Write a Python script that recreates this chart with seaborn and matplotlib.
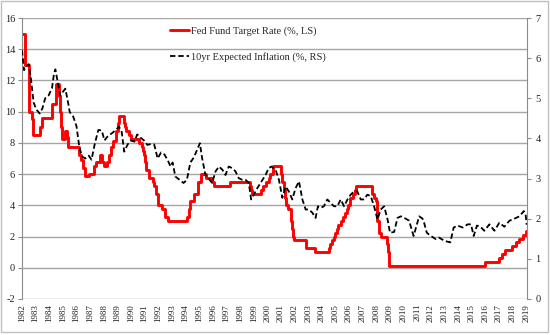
import matplotlib
matplotlib.use("Agg")
import matplotlib.pyplot as plt
import pandas as pd
import seaborn as sns
from matplotlib.patches import Rectangle

# ---------------- data ----------------
fed_dates = [1982.00, 1982.20, 1982.55, 1982.70, 1982.83, 1983.35, 1983.45, 1984.20, 1984.50,
             1984.72, 1984.77, 1984.85, 1984.95, 1985.12, 1985.28, 1985.38, 1986.20, 1986.30,
             1986.45, 1986.60, 1986.90, 1987.30, 1987.42, 1987.70, 1987.85, 1988.00, 1988.25,
             1988.40, 1988.50, 1988.65, 1988.90, 1989.05, 1989.15, 1989.45, 1989.52, 1989.58,
             1989.65, 1989.85, 1989.97, 1990.55, 1990.82, 1990.88, 1990.95, 1991.00, 1991.05,
             1991.10, 1991.30, 1991.60, 1991.70, 1991.85, 1991.95, 1992.30, 1992.50, 1992.70,
             1994.08, 1994.25, 1994.35, 1994.62, 1994.88, 1995.10, 1995.52, 1995.95, 1996.08,
             1997.23, 1998.75, 1998.80, 1998.88, 1999.50, 1999.65, 1999.88, 2000.10, 2000.22,
             2000.38, 2001.00, 2001.08, 2001.22, 2001.30, 2001.38, 2001.48, 2001.70, 2001.78,
             2001.85, 2001.95, 2002.85, 2003.48, 2004.50, 2004.62, 2004.72, 2004.87, 2004.95,
             2005.10, 2005.22, 2005.42, 2005.58, 2005.72, 2005.83, 2005.95, 2006.08, 2006.25,
             2006.40, 2006.50, 2007.70, 2007.83, 2007.95, 2008.05, 2008.08, 2008.20, 2008.33,
             2008.78, 2008.83, 2008.96, 2015.96, 2016.96, 2017.20, 2017.46, 2017.96, 2018.22,
             2018.46, 2018.72, 2018.97, 2019.05]
fed_rates = [15.0, 13.0, 10.0, 9.5, 8.5, 9.0, 9.6, 10.5, 11.75,
             11.0, 10.0, 9.0, 8.25, 8.75, 8.375, 7.75, 7.25, 6.875,
             6.375, 5.875, 6.0, 6.5, 6.75, 7.25, 6.75, 6.5, 6.75,
             7.25, 7.75, 8.125, 8.75, 9.25, 9.75, 9.5, 9.25, 9.0,
             8.75, 8.5, 8.25, 8.0, 7.75, 7.5, 7.25, 7.0, 6.75,
             6.25, 5.75, 5.5, 5.25, 4.75, 4.0, 3.75, 3.25, 3.0,
             3.25, 3.75, 4.25, 4.75, 5.5, 6.0, 5.75, 5.5, 5.25,
             5.5, 5.25, 5.0, 4.75, 5.0, 5.25, 5.5, 5.75, 6.0,
             6.5, 6.0, 5.5, 5.0, 4.5, 4.0, 3.75, 3.0, 2.5,
             2.0, 1.75, 1.25, 1.0, 1.25, 1.5, 1.75, 2.0, 2.25,
             2.5, 2.75, 3.0, 3.25, 3.5, 3.75, 4.0, 4.5, 4.75,
             5.0, 5.25, 4.75, 4.5, 4.25, 3.5, 3.0, 2.25, 2.0,
             1.5, 1.0, 0.125, 0.375, 0.625, 0.875, 1.125, 1.375, 1.625,
             1.875, 2.125, 2.375, 2.375]

infl_dates = [1982.00, 1982.15, 1982.30, 1982.50, 1982.65, 1982.85, 1983.05, 1983.30, 1983.50,
              1983.70, 1983.95, 1984.20, 1984.35, 1984.45, 1984.62, 1984.80, 1985.00, 1985.18,
              1985.35, 1985.50, 1985.75, 1986.00, 1986.20, 1986.40, 1986.65, 1986.90, 1987.10,
              1987.35, 1987.60, 1987.85, 1988.05, 1988.30, 1988.60, 1988.85, 1989.10, 1989.30,
              1989.50, 1989.75, 1990.00, 1990.25, 1990.45, 1990.70, 1990.95, 1991.20, 1991.45,
              1991.70, 1991.95, 1992.20, 1992.45, 1992.70, 1992.90, 1993.05, 1993.25, 1993.60,
              1993.85, 1994.10, 1994.35, 1994.60, 1994.85, 1995.05, 1995.22, 1995.45, 1995.70,
              1995.95, 1996.20, 1996.45, 1996.70, 1996.93, 1997.17, 1997.42, 1997.66, 1997.90,
              1998.15, 1998.40, 1998.64, 1998.81, 1999.00, 1999.26, 1999.50, 1999.87, 2000.10,
              2000.30, 2000.45, 2000.60, 2000.85, 2001.10, 2001.34, 2001.58, 2001.83, 2002.07,
              2002.32, 2002.57, 2002.81, 2003.05, 2003.30, 2003.54, 2003.71, 2003.91, 2004.15,
              2004.40, 2004.65, 2004.89, 2005.14, 2005.38, 2005.63, 2005.88, 2006.12, 2006.36,
              2006.60, 2006.85, 2007.10, 2007.34, 2007.59, 2007.83, 2008.08, 2008.32, 2008.57,
              2008.82, 2009.00, 2009.30, 2009.55, 2009.79, 2010.16, 2010.40, 2010.73, 2011.14,
              2011.39, 2011.50, 2011.70, 2012.00, 2012.37, 2012.60, 2012.98, 2013.42, 2013.67,
              2013.96, 2014.33, 2014.70, 2014.94, 2015.14, 2015.38, 2015.63, 2015.92, 2016.29,
              2016.66, 2017.02, 2017.39, 2017.76, 2018.12, 2018.49, 2018.82, 2018.95, 2019.03]
infl_values = [6.20, 5.70, 5.80, 5.85, 5.50, 4.90, 4.72, 4.62, 4.75,
               5.00, 5.07, 5.25, 5.62, 5.72, 5.40, 5.07, 5.16, 5.24,
               4.95, 4.66, 4.55, 4.30, 3.80, 3.55, 3.50, 3.57, 3.47,
               3.88, 4.21, 4.20, 3.95, 4.06, 4.13, 4.20, 4.29, 4.20,
               3.67, 3.85, 3.95, 3.92, 4.10, 4.02, 3.95, 3.84, 3.86,
               3.85, 3.50, 3.65, 3.60, 3.45, 3.30, 3.40, 3.05, 2.96,
               2.89, 2.97, 3.40, 3.52, 3.72, 3.88, 3.50, 3.10, 3.00,
               2.89, 3.18, 3.30, 3.22, 3.09, 3.30, 3.26, 3.18, 3.01,
               2.97, 2.97, 2.89, 2.48, 2.60, 2.76, 2.89, 3.09, 3.26,
               3.30, 3.26, 3.22, 2.97, 2.52, 2.80, 2.68, 2.48, 2.76,
               2.93, 2.48, 2.23, 2.23, 2.15, 2.02, 2.31, 2.27, 2.31,
               2.48, 2.39, 2.31, 2.31, 2.48, 2.31, 2.48, 2.60, 2.68,
               2.68, 2.48, 2.48, 2.60, 2.56, 2.31, 1.98, 2.23, 2.31,
               1.98, 1.65, 1.67, 2.02, 2.06, 2.00, 1.95, 1.57, 2.06,
               2.00, 1.90, 1.65, 1.57, 1.49, 1.53, 1.45, 1.41, 1.78,
               1.83, 1.78, 1.86, 1.86, 1.57, 1.83, 1.80, 1.70, 1.86,
               1.70, 1.90, 1.80, 1.95, 2.00, 2.06, 2.19, 2.10, 1.85]

years = list(range(1982, 2020))
year_labels = [str(y) for y in years]
left_ticks = list(range(-2, 17, 2))
right_ticks = list(range(0, 8))
fed_label = "Fed Fund Target Rate (%, LS)"
infl_label = "10yr Expected Inflation (%, RS)"

# ---------------- style ----------------
sns.set_style("white")
plt.rcParams['font.family'] = ['Liberation Serif', 'DejaVu Serif']

GRID = '#a6a6a6'
SPINE = '#8c8c8c'

fig = plt.figure(figsize=(5.5, 3.35), dpi=100)
ax = fig.add_axes([22 / 550, 1 - 299 / 335, (527 - 22) / 550, (299 - 18) / 335])

fed_df = pd.DataFrame({'date': fed_dates, 'rate': fed_rates})
infl_df = pd.DataFrame({'date': infl_dates, 'value': infl_values})

sns.lineplot(data=fed_df, x='date', y='rate', ax=ax, color='#ff0000', linewidth=2.1,
             drawstyle='steps-post', label=fed_label, legend=False)

ax2 = ax.twinx()
sns.lineplot(data=infl_df, x='date', y='value', ax=ax2, color='black', linewidth=1.3,
             linestyle='--', label=infl_label, legend=False)
ax2.lines[0].set_dashes([3, 1.6])

# ---- left axis / x axis ----
ax.set_xlim(1982, 2019.05)
ax.set_ylim(-2, 16)
ax.set_yticks(left_ticks)
ax.set_yticklabels([str(v) for v in left_ticks])
ax.yaxis.grid(True, color=GRID, linewidth=1.0)
ax.xaxis.grid(False)
ax.set_axisbelow(True)
ax.set_xlabel('')
ax.set_ylabel('')

ax.set_xticks(years)
ax.set_xticklabels(year_labels)
ax.spines['bottom'].set_position(('data', 0))
ax.spines['bottom'].set_color(GRID)
ax.spines['left'].set_color(SPINE)
ax.spines['top'].set_visible(False)
ax.spines['right'].set_visible(False)
ax.tick_params(axis='x', direction='out', length=3, width=0.8, color=SPINE,
               pad=23, labelsize=6.5, labelcolor='#222222', labelrotation=90)
ax.tick_params(axis='y', direction='out', length=3, width=0.8, color=SPINE,
               pad=2, labelsize=7.5, labelcolor='#222222')

# ---- right axis ----
ax2.set_ylim(0, 7)
ax2.set_yticks(right_ticks)
ax2.set_yticklabels([str(v) for v in right_ticks])
ax2.set_xlim(1982, 2019.05)
ax2.set_xlabel('')
ax2.set_ylabel('')
for s in ['top', 'left', 'bottom']:
    ax2.spines[s].set_visible(False)
ax2.spines['right'].set_color(SPINE)
ax2.tick_params(axis='y', direction='out', length=3, width=0.8, color=SPINE,
                pad=3, labelsize=7.5, labelcolor='#222222')
ax2.tick_params(axis='x', which='both', bottom=False, top=False,
                labelbottom=False, labeltop=False)
ax2.grid(False)

for lbl in ax.get_xticklabels():
    lbl.set_rotation(90)
    lbl.set_horizontalalignment('center')
    lbl.set_verticalalignment('top')

h1, l1 = ax.get_legend_handles_labels()
h2, l2 = ax2.get_legend_handles_labels()
ax2.legend(h1 + h2, l1 + l2, loc='upper left', bbox_to_anchor=(170 / 550, 1 - 26 / 335),
           bbox_transform=fig.transFigure, frameon=False, fontsize=7.5,
           handlelength=1.8, labelspacing=1.6, borderpad=0, handletextpad=0.25,
           borderaxespad=0)

fig.add_artist(Rectangle((0.001, 0.009), 0.995, 0.989, transform=fig.transFigure,
                         fill=False, edgecolor='#bfbfbf', linewidth=1.0))

fig.savefig('out.png', dpi=100)
